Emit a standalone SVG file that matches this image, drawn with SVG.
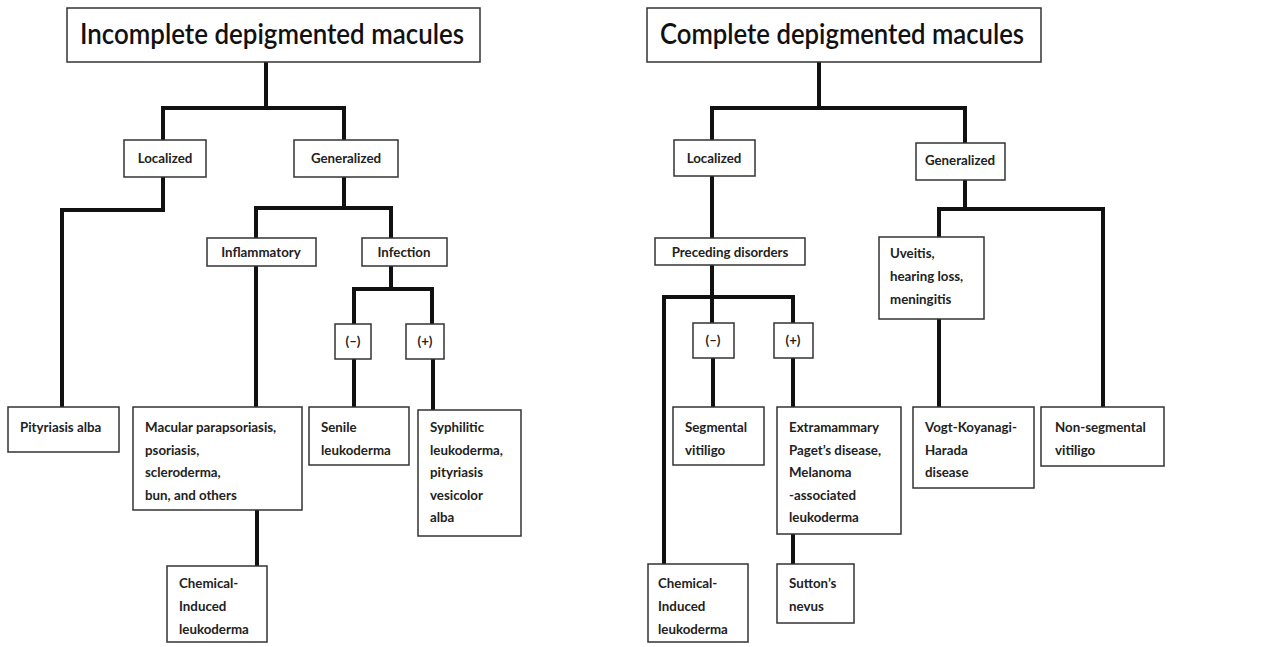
<svg xmlns="http://www.w3.org/2000/svg" width="1284" height="647" viewBox="0 0 1284 647">
<style>
.bx{fill:#fff;stroke:#333;stroke-width:1.5}
.t{font-family:Lato,"Liberation Sans",sans-serif;font-size:13.3px;font-weight:bold;fill:#222}
.c{text-anchor:middle}
.title{font-family:Lato,"Liberation Sans",sans-serif;font-size:28px;font-weight:600;fill:#111;text-anchor:middle}
.ln{fill:none;stroke:#111;stroke-width:4;stroke-linejoin:miter;stroke-linecap:square}
</style>
<rect width="1284" height="647" fill="#fff"/>
<g id="connectors">
<path class="ln" d="M266 62V108M163 140V108H344V140"/>
<path class="ln" d="M163 177V210H62V407"/>
<path class="ln" d="M344 177V208M256 238V208H391V238"/>
<path class="ln" d="M256 266V407"/>
<path class="ln" d="M391 266V289M354 324V289H432V324"/>
<path class="ln" d="M354 359V407M433 359V410"/>
<path class="ln" d="M257 510V566"/>
<path class="ln" d="M819 62V108M712 140V108H965V143"/>
<path class="ln" d="M712 176V238"/>
<path class="ln" d="M965 180V209M939 237V209H1103V407"/>
<path class="ln" d="M712 265V323M664 564V297H793V323"/>
<path class="ln" d="M713 358V407M793 358V407"/>
<path class="ln" d="M939 319V407"/>
<path class="ln" d="M793 534V564"/>
</g>
<g id="n-incomplete"><rect class="bx" x="67" y="8" width="413" height="54"/><text class="title" x="272" y="44" textLength="384" lengthAdjust="spacingAndGlyphs">Incomplete depigmented macules</text></g>
<g id="n-l-localized"><rect class="bx" x="124" y="140" width="82" height="37"/><text class="t c" x="165" y="163">Localized</text></g>
<g id="n-l-generalized"><rect class="bx" x="294" y="140" width="104" height="37"/><text class="t c" x="346" y="163">Generalized</text></g>
<g id="n-inflammatory"><rect class="bx" x="207" y="238" width="109" height="28"/><text class="t c" x="261" y="257">Inflammatory</text></g>
<g id="n-infection"><rect class="bx" x="362" y="238" width="85" height="28"/><text class="t c" x="404" y="257">Infection</text></g>
<g id="n-l-neg"><rect class="bx" x="335" y="324" width="36" height="35"/><text class="t c" x="353" y="346">(–)</text></g>
<g id="n-l-pos"><rect class="bx" x="406" y="324" width="38" height="35"/><text class="t c" x="425" y="346">(+)</text></g>
<g id="n-pityriasis"><rect class="bx" x="8" y="407" width="111" height="45"/><text class="t" x="20" y="432">Pityriasis alba</text></g>
<g id="n-macular"><rect class="bx" x="133" y="407" width="169" height="103"/><text class="t" x="145" y="432">Macular parapsoriasis,<tspan x="145" dy="22.5">psoriasis,</tspan><tspan x="145" dy="22.5">scleroderma,</tspan><tspan x="145" dy="22.5">bun, and others</tspan></text></g>
<g id="n-senile"><rect class="bx" x="309" y="407" width="100" height="58"/><text class="t" x="321" y="432">Senile<tspan x="321" dy="22.5">leukoderma</tspan></text></g>
<g id="n-syphilitic"><rect class="bx" x="418" y="410" width="103" height="126"/><text class="t" x="430" y="432">Syphilitic<tspan x="430" dy="22.5">leukoderma,</tspan><tspan x="430" dy="22.5">pityriasis</tspan><tspan x="430" dy="22.5">vesicolor</tspan><tspan x="430" dy="22.5">alba</tspan></text></g>
<g id="n-l-chemical"><rect class="bx" x="167" y="566" width="100" height="76"/><text class="t" x="179" y="588">Chemical-<tspan x="179" dy="23">Induced</tspan><tspan x="179" dy="23">leukoderma</tspan></text></g>
<g id="n-complete"><rect class="bx" x="647" y="8" width="394" height="54"/><text class="title" x="842" y="44" textLength="364" lengthAdjust="spacingAndGlyphs">Complete depigmented macules</text></g>
<g id="n-r-localized"><rect class="bx" x="674" y="140" width="81" height="36"/><text class="t c" x="714" y="163">Localized</text></g>
<g id="n-r-generalized"><rect class="bx" x="916" y="143" width="89" height="37"/><text class="t c" x="960" y="165">Generalized</text></g>
<g id="n-preceding"><rect class="bx" x="655" y="238" width="150" height="27"/><text class="t c" x="730" y="257">Preceding disorders</text></g>
<g id="n-uveitis"><rect class="bx" x="879" y="237" width="105" height="82"/><text class="t" x="890" y="258">Uveitis,<tspan x="890" dy="23">hearing loss,</tspan><tspan x="890" dy="23">meningitis</tspan></text></g>
<g id="n-r-neg"><rect class="bx" x="693" y="323" width="41" height="35"/><text class="t c" x="713" y="345">(–)</text></g>
<g id="n-r-pos"><rect class="bx" x="774" y="323" width="39" height="35"/><text class="t c" x="793" y="345">(+)</text></g>
<g id="n-segmental"><rect class="bx" x="673" y="407" width="91" height="58"/><text class="t" x="685" y="432">Segmental<tspan x="685" dy="22.5">vitiligo</tspan></text></g>
<g id="n-extramammary"><rect class="bx" x="777" y="407" width="124" height="127"/><text class="t" x="789" y="432">Extramammary<tspan x="789" dy="22.5">Paget’s disease,</tspan><tspan x="789" dy="22.5">Melanoma</tspan><tspan x="789" dy="22.5">-associated</tspan><tspan x="789" dy="22.5">leukoderma</tspan></text></g>
<g id="n-vogt"><rect class="bx" x="913" y="407" width="121" height="81"/><text class="t" x="925" y="432">Vogt-Koyanagi-<tspan x="925" dy="22.5">Harada</tspan><tspan x="925" dy="22.5">disease</tspan></text></g>
<g id="n-nonsegmental"><rect class="bx" x="1041" y="407" width="123" height="59"/><text class="t" x="1055" y="432">Non-segmental<tspan x="1055" dy="22.5">vitiligo</tspan></text></g>
<g id="n-r-chemical"><rect class="bx" x="648" y="564" width="100" height="78"/><text class="t" x="658" y="588">Chemical-<tspan x="658" dy="23">Induced</tspan><tspan x="658" dy="23">leukoderma</tspan></text></g>
<g id="n-sutton"><rect class="bx" x="777" y="564" width="77" height="59"/><text class="t" x="789" y="588">Sutton’s<tspan x="789" dy="23">nevus</tspan></text></g>
</svg>
